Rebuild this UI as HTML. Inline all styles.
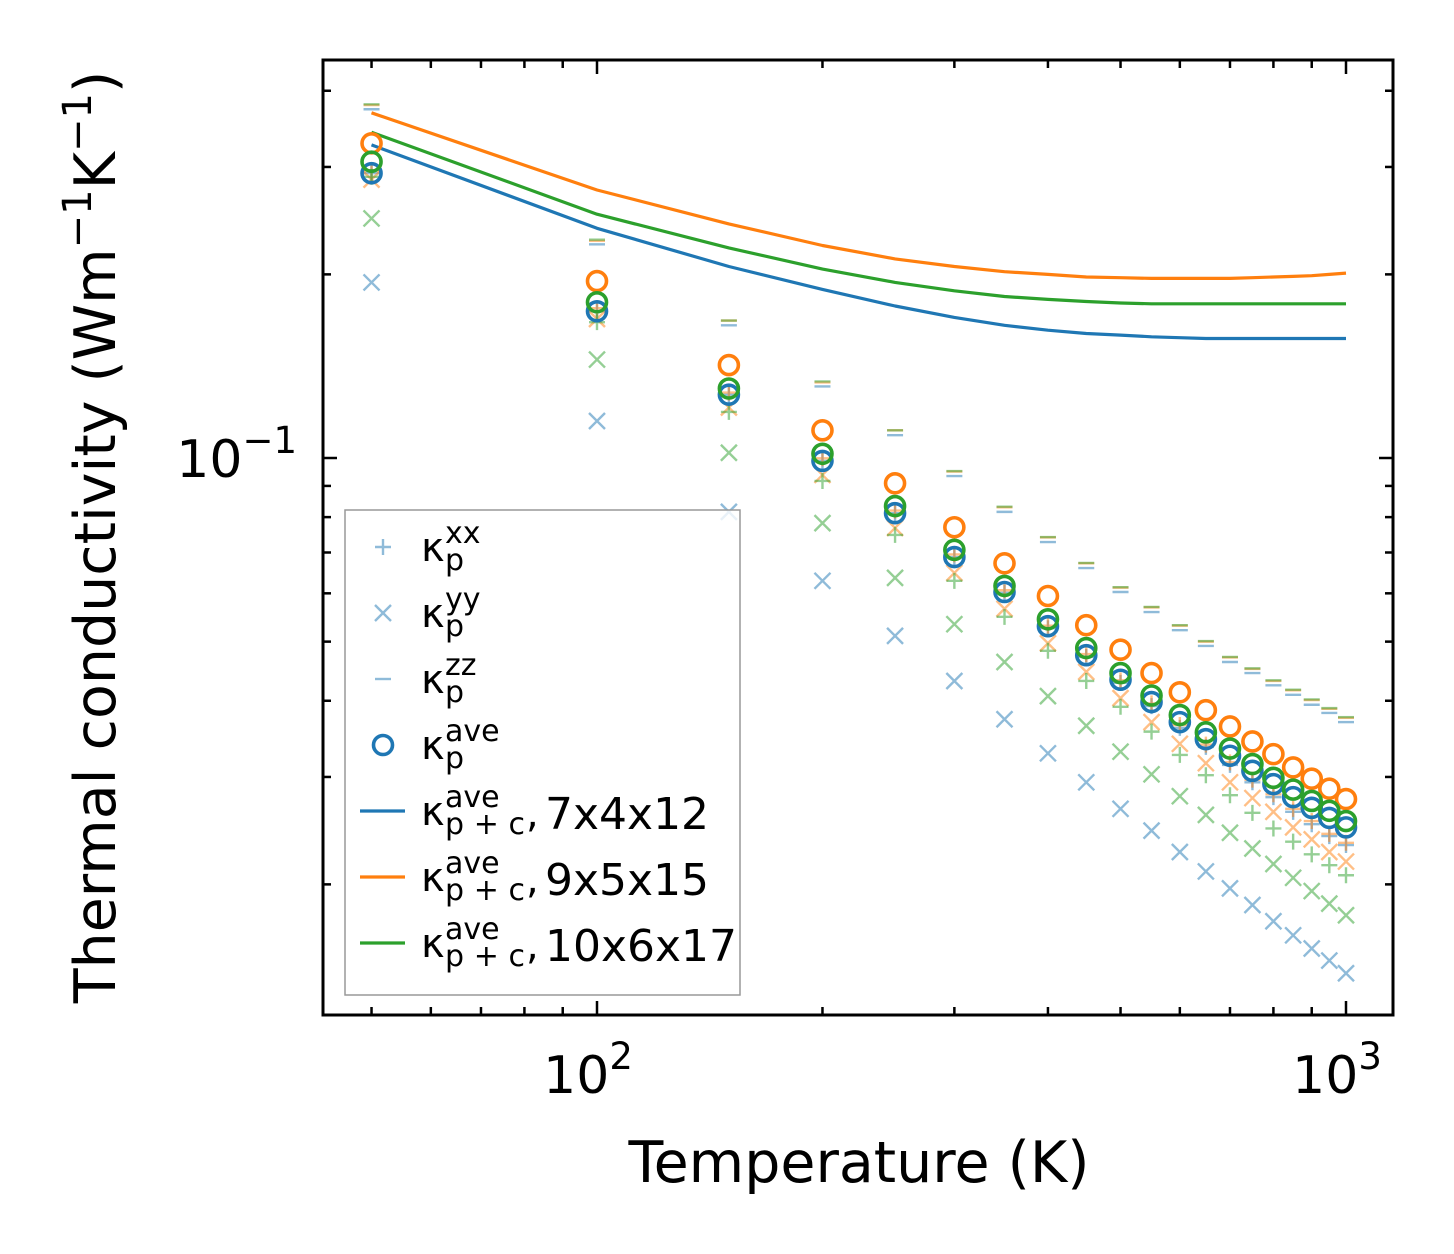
<!DOCTYPE html>
<html><head><meta charset="utf-8"><style>
html,body{margin:0;padding:0;background:#fff;}
svg{display:block;font-family:"DejaVu Sans","Liberation Sans",sans-serif;}
</style></head><body>
<svg id="chart" width="1454" height="1254" viewBox="0 0 1454 1254" xmlns="http://www.w3.org/2000/svg">
<rect x="0" y="0" width="1454" height="1254" fill="#fff"/>
<g id="ticks"></g>
<g id="marks"></g>
<rect x="323" y="60" width="1070" height="955" fill="none" stroke="#000" stroke-width="3"/>
<text x="859" y="1182" font-size="57" text-anchor="middle">Temperature (K)</text>
<text transform="translate(115,537) rotate(-90)" font-size="57" text-anchor="middle">Thermal conductivity (Wm<tspan dy="-24" font-size="40">−1</tspan><tspan dy="24">K</tspan><tspan dy="-24" font-size="40">−1</tspan><tspan dy="24">)</tspan></text>
<g><text x="588" y="1093" font-size="52" text-anchor="middle">10<tspan dy="-24" font-size="37">2</tspan></text></g>
<g><text x="1337" y="1093" font-size="52" text-anchor="middle">10<tspan dy="-24" font-size="37">3</tspan></text></g>
<g><text x="297" y="477" font-size="52" text-anchor="end">10<tspan dy="-24" font-size="37">−1</tspan></text></g>
<g id="legend">
<rect x="345" y="510" width="395" height="485" fill="#fff" fill-opacity="0.8" stroke="#999" stroke-width="1.5"/>
</g>
</svg>
<script>
// ---- data ----
const temps = [50,100,150,200,250,300,350,400,450,500,550,600,650,700,750,800,850,900,950,1000];
const aveBlue   = [0.293,0.174,0.127,0.0989,0.0812,0.0688,0.0603,0.0530,0.0475,0.0433,0.0398,0.0369,0.0346,0.0325,0.0307,0.0292,0.0278,0.0267,0.0257,0.0248];
const aveOrange = [0.328,0.195,0.142,0.111,0.0909,0.0770,0.0672,0.0594,0.0532,0.0485,0.0444,0.0413,0.0386,0.0363,0.0343,0.0327,0.0311,0.0298,0.0287,0.0276];
const aveGreen  = [0.306,0.180,0.130,0.1016,0.0834,0.0707,0.0617,0.0544,0.0488,0.0444,0.0408,0.0379,0.0355,0.0334,0.0315,0.0299,0.0286,0.0274,0.0264,0.0254];
const lineBlue   = [0.326,0.238,0.206,0.189,0.1775,0.170,0.165,0.162,0.160,0.159,0.158,0.1575,0.157,0.157,0.157,0.157,0.157,0.157,0.157,0.157];
const lineOrange = [0.368,0.275,0.242,0.223,0.212,0.206,0.202,0.200,0.198,0.1975,0.197,0.197,0.197,0.197,0.1975,0.198,0.1985,0.199,0.200,0.201];
const lineGreen  = [0.342,0.251,0.221,0.204,0.194,0.188,0.184,0.182,0.1805,0.1795,0.179,0.179,0.179,0.179,0.179,0.179,0.179,0.179,0.179,0.179];
const xxBlue   = [0.293,0.174,0.127,0.0989,0.0812,0.0688,0.0601,0.0526,0.0472,0.0428,0.0392,0.0361,0.0336,0.0314,0.0294,0.0278,0.0263,0.0251,0.0240,0.0232];
const xxOrange = [0.296,0.176,0.128,0.0999,0.0820,0.0695,0.0607,0.0531,0.0477,0.0432,0.0396,0.0365,0.0339,0.0317,0.0297,0.0281,0.0266,0.0254,0.0242,0.0234];
const xxGreen  = [0.289,0.167,0.119,0.0917,0.0748,0.0629,0.0549,0.0483,0.0431,0.0391,0.0356,0.0326,0.0302,0.0280,0.0262,0.0247,0.0235,0.0224,0.0215,0.0207];
const yyBlue   = [0.194,0.115,0.0816,0.0629,0.0511,0.0431,0.0373,0.0328,0.0294,0.0266,0.0245,0.0226,0.0210,0.0197,0.0185,0.0174,0.0165,0.0157,0.0150,0.0143];
const yyOrange = [0.286,0.169,0.121,0.0938,0.0768,0.0648,0.0566,0.0497,0.0446,0.0404,0.0369,0.0340,0.0316,0.0294,0.0277,0.0263,0.0248,0.0237,0.0226,0.0218];
const yyGreen  = [0.247,0.145,0.102,0.0782,0.0636,0.0534,0.0463,0.0407,0.0364,0.0330,0.0303,0.0279,0.0260,0.0243,0.0229,0.0216,0.0205,0.0195,0.0186,0.0178];
const zzBlue   = [0.373,0.224,0.165,0.131,0.109,0.0934,0.0816,0.0728,0.0660,0.0603,0.0559,0.0522,0.0492,0.0463,0.0444,0.0424,0.0409,0.0394,0.0382,0.0369];
const zzOrange = [0.379,0.227,0.168,0.133,0.111,0.0950,0.0830,0.0741,0.0672,0.0613,0.0569,0.0531,0.0500,0.0471,0.0451,0.0431,0.0416,0.0401,0.0388,0.0375];
const zzGreen  = [0.380,0.228,0.168,0.1335,0.111,0.0952,0.0832,0.0742,0.0673,0.0614,0.0570,0.0532,0.0501,0.0472,0.0452,0.0432,0.0417,0.0402,0.0389,0.0376];
const xMajor = [100,1000];
const xMinor = [50,60,70,80,90,200,300,400,500,600,700,800,900];
const yMajor = [0.1];
const yMinor = [0.02,0.03,0.04,0.05,0.06,0.07,0.08,0.09,0.2,0.3,0.4];

// ---- axes ----
const L=323,R=1393,T=60,B=1015;
function xs(v){return 597+749*(Math.log10(v)-2);}
function ys(v){return 458-610*(Math.log10(v)+1);}
const NS="http://www.w3.org/2000/svg";
function mk(tag,attrs,parent){const e=document.createElementNS(NS,tag);for(const k in attrs)e.setAttribute(k,attrs[k]);parent.appendChild(e);return e;}
const C={b:"#1f77b4",o:"#ff7f0e",g:"#2ca02c"};

const tk=document.getElementById('ticks');
function xtick(v,len){const x=xs(v);
  let t=mk('line',{x1:x,x2:x,y1:B,y2:B-len,stroke:'#000','stroke-width':2.5},tk);
  
  
  t=mk('line',{x1:x,x2:x,y1:T,y2:T+len,stroke:'#000','stroke-width':2.5},tk);
  
  }
function ytick(v,len){const y=ys(v);
  let t=mk('line',{x1:L,x2:L+len,y1:y,y2:y,stroke:'#000','stroke-width':2.5},tk);
  
  
  t=mk('line',{x1:R,x2:R-len,y1:y,y2:y,stroke:'#000','stroke-width':2.5},tk);
  
  }
xMajor.forEach(v=>xtick(v,14));xMinor.forEach(v=>xtick(v,8));
yMajor.forEach(v=>ytick(v,14));yMinor.forEach(v=>ytick(v,8));

const mg=document.getElementById('marks');
function plus(g,x,y,s,c,a){mk('path',{d:`M${x-s} ${y}H${x+s}M${x} ${y-s}V${y+s}`,stroke:c,'stroke-width':2.4,'stroke-opacity':a,fill:'none'},g);}
function cross(g,x,y,s,c,a){mk('path',{d:`M${x-s} ${y-s}L${x+s} ${y+s}M${x-s} ${y+s}L${x+s} ${y-s}`,stroke:c,'stroke-width':2.4,'stroke-opacity':a,fill:'none'},g);}
function hbar(g,x,y,s,c,a){mk('path',{d:`M${x-s} ${y}H${x+s}`,stroke:c,'stroke-width':2.4,'stroke-opacity':a,fill:'none'},g);}
function ring(g,x,y,c){mk('circle',{cx:x,cy:y,r:9.5,stroke:c,'stroke-width':3.6,fill:'none'},g);}
function series(vals,fn,c,name){
  const g=mk('g',{},mg);
  
  
  vals.forEach((v,i)=>fn(g,xs(temps[i]),ys(v),c));
}
const A=0.5;
series(xxBlue,(g,x,y,c)=>plus(g,x,y,8,c,A),C.b,'kappa-xx-blue');
series(yyBlue,(g,x,y,c)=>cross(g,x,y,8,c,A),C.b,'kappa-yy-blue');
series(zzBlue,(g,x,y,c)=>hbar(g,x,y,8,c,A),C.b,'kappa-zz-blue');
series(xxOrange,(g,x,y,c)=>plus(g,x,y,8,c,A),C.o,'kappa-xx-orange');
series(yyOrange,(g,x,y,c)=>cross(g,x,y,8,c,A),C.o,'kappa-yy-orange');
series(zzOrange,(g,x,y,c)=>hbar(g,x,y,8,c,A),C.o,'kappa-zz-orange');
series(xxGreen,(g,x,y,c)=>plus(g,x,y,8,c,A),C.g,'kappa-xx-green');
series(yyGreen,(g,x,y,c)=>cross(g,x,y,8,c,A),C.g,'kappa-yy-green');
series(zzGreen,(g,x,y,c)=>hbar(g,x,y,8,c,A),C.g,'kappa-zz-green');
series(aveBlue,(g,x,y,c)=>ring(g,x,y,c),C.b,'kappa-ave-blue');
function line(vals,c,name){
  const d=vals.map((v,i)=>(i?'L':'M')+xs(temps[i]).toFixed(1)+' '+ys(v).toFixed(1)).join('');
  const p=mk('path',{d:d,stroke:c,'stroke-width':3.2,fill:'none','stroke-linejoin':'round'},mg);
  
  
}
line(lineBlue,C.b,'line-7x4x12');
line(lineOrange,C.o,'line-9x5x15');
line(lineGreen,C.g,'line-10x6x17');
series(aveOrange,(g,x,y,c)=>ring(g,x,y,c),C.o,'kappa-ave-orange');
series(aveGreen,(g,x,y,c)=>ring(g,x,y,c),C.g,'kappa-ave-green');

// ---- legend ----
const lg=document.getElementById('legend');
const entries=[['xx',null,'plus'],['yy',null,'cross'],['zz',null,'bar'],['ave',null,'ring'],
  ['ave','7x4x12','lb'],['ave','9x5x15','lo'],['ave','10x6x17','lg']];
entries.forEach((e,i)=>{
  const g=mk('g',{},lg);
  
  
  const my=547+66*i, by=561+66*i;
  if(e[2]=='plus')plus(g,383,my,8,C.b,A);
  else if(e[2]=='cross')cross(g,383,my,8,C.b,A);
  else if(e[2]=='bar')hbar(g,383,my,8,C.b,A);
  else if(e[2]=='ring')ring(g,383,my,C.b);
  else mk('line',{x1:360,x2:405,y1:my,y2:my,stroke:{lb:C.b,lo:C.o,lg:C.g}[e[2]],'stroke-width':3.2},g);
  mk('text',{x:421,y:by,'font-size':40},g).textContent='κ';
  mk('text',{x:445,y:by-18,'font-size':30},g).textContent=e[0];
  const sub=mk('text',{x:445,y:by+9,'font-size':30},g);
  sub.textContent=e[1]?'p + c':'p';
  if(e[1]){
    sub.setAttribute('textLength','80');
    mk('text',{x:526,y:by+2,'font-size':40},g).textContent=',';
    const t=mk('text',{x:545,y:by+4,'font-size':44},g);
    t.textContent=e[1];
  }
});
</script>
</body></html>
